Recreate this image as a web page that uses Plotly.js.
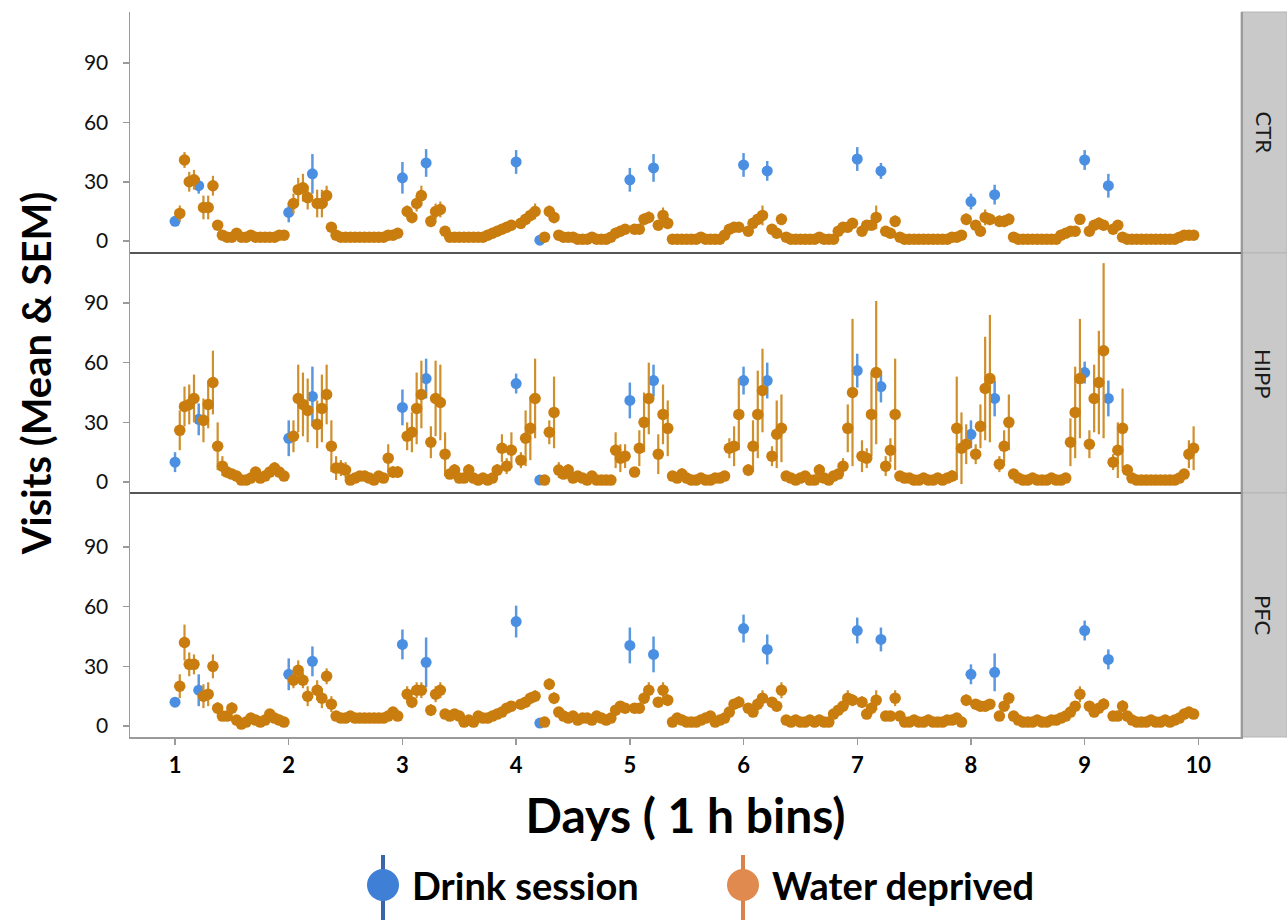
<!DOCTYPE html>
<html>
<head>
<meta charset="utf-8">
<script src="https://cdn.plot.ly/plotly-3.0.1.min.js"></script>
<style>
html,body{margin:0;padding:0;background:#fff;}
#chart{width:1287px;height:920px;}
</style>
</head>
<body>
<div id="chart"></div>
<script>
// ---------- DATA ----------
const DAYS = [1, 2, 3, 4, 5, 6, 7, 8, 9];
const HOURS_PER_DAY = 24;
const DRINK_HOURS = [0, 5];            // hours of each day that are drink sessions
const PANELS = ["CTR", "HIPP", "PFC"];
const X_TICKS = [1, 2, 3, 4, 5, 6, 7, 8, 9, 10];
const Y_TICKS = [0, 30, 60, 90];

// Water deprived: mean visits per 1 h bin (null where the bin is a drink session)
const CTR_WD = [
 null,14,41,30,31,null,17,17,28,8,3,2,2,4,2,2,3,2,2,2,2,2,3,3,
 null,19,26,27,22,null,19,19,23,7,3,2,2,2,2,2,2,2,2,2,2,3,3,4,
 null,15,12,19,23,null,10,15,16,5,2,2,2,2,2,2,2,2,3,4,5,6,7,8,
 null,9,11,13,15,null,2,15,12,3,2,2,2,1,1,1,2,1,1,1,2,4,5,6,
 null,6,6,11,12,null,8,13,9,1,1,1,1,1,1,2,1,1,1,1,3,6,7,7,
 null,5,9,11,13,null,6,4,11,2,1,1,1,1,1,1,2,1,1,1,5,7,7,9,
 null,5,8,8,12,null,5,4,10,2,1,1,1,1,1,1,1,1,1,1,2,2,3,11,
 null,8,5,12,11,null,10,10,11,2,1,1,1,1,1,1,1,1,1,3,4,5,5,11,
 null,5,8,9,8,null,6,8,2,1,1,1,1,1,1,1,1,1,1,1,2,3,3,3
];
const CTR_WD_SEM = [
 null,4,4,5,5,null,6,6,5,2,1,1,1,1,1,1,1,1,1,1,1,1,1,1,
 null,5,6,7,6,null,7,7,5,2,1,1,1,1,1,1,1,1,1,1,1,1,1,1,
 null,3,3,4,5,null,3,4,4,2,1,1,1,1,1,1,1,1,1,1,1,1,2,2,
 null,2,2,3,4,null,1,3,3,1,1,1,1,1,1,1,1,1,1,1,1,1,1,2,
 null,1,2,3,3,null,2,4,3,1,1,1,1,1,1,1,1,1,1,1,1,1,2,2,
 null,1,2,2,5,null,2,1,3,1,1,1,1,1,1,1,1,1,1,1,1,2,2,2,
 null,1,2,2,6,null,1,1,3,1,1,1,1,1,1,1,1,1,1,1,1,1,1,3,
 null,2,2,4,3,null,3,3,3,1,1,1,1,1,1,1,1,1,1,1,1,1,1,2,
 null,1,2,3,2,null,2,2,1,1,1,1,1,1,1,1,1,1,1,1,1,1,1,1
];
const HIPP_WD = [
 null,26,38,39,42,null,31,39,50,18,8,5,4,3,1,1,2,5,2,3,5,7,5,3,
 null,23,42,39,36,null,29,37,44,18,7,7,6,1,2,3,3,2,1,3,2,12,5,5,
 null,23,25,37,44,null,20,42,40,14,4,6,2,2,6,2,1,2,1,2,6,17,8,16,
 null,11,22,27,42,null,1,25,35,6,4,6,2,3,2,1,3,1,1,1,1,16,12,13,
 null,5,17,30,42,null,14,34,27,3,2,4,2,1,1,2,1,1,2,2,3,17,18,34,
 null,6,18,34,46,null,13,24,27,3,2,1,2,3,1,1,6,2,1,3,4,8,27,45,
 null,13,12,34,55,null,8,16,34,3,2,2,1,1,2,1,1,2,1,2,3,27,17,19,
 null,14,28,47,52,null,9,18,30,4,2,1,1,2,1,1,1,2,1,1,2,20,35,52,
 null,19,42,50,66,null,10,16,27,6,2,1,1,1,1,1,1,1,1,1,2,4,14,17
];
const HIPP_WD_SEM = [
 null,10,10,10,12,null,11,12,16,12,5,3,2,2,1,1,1,2,1,1,2,3,2,2,
 null,8,17,16,16,null,12,17,15,13,6,4,4,1,1,2,1,1,1,1,1,7,3,3,
 null,7,10,18,17,null,8,19,19,11,2,3,1,1,3,1,1,1,1,1,3,7,4,9,
 null,4,14,16,20,null,1,6,18,4,2,3,1,1,1,1,1,1,1,1,1,9,7,6,
 null,2,9,15,18,null,10,15,14,2,1,3,1,1,1,1,1,1,1,1,2,5,10,18,
 null,3,13,22,21,null,5,17,17,2,1,1,1,2,1,1,3,1,1,1,2,4,12,37,
 null,8,5,21,36,null,5,6,28,2,1,1,1,1,1,1,1,1,1,1,3,26,18,10,
 null,5,11,26,32,null,4,8,14,2,1,1,1,1,1,1,1,1,1,1,1,12,23,30,
 null,7,17,26,44,null,4,14,20,3,1,1,1,1,1,1,1,1,1,1,1,2,7,11
];
const PFC_WD = [
 null,20,42,31,31,null,15,16,30,9,5,5,9,3,1,2,4,3,2,3,6,4,3,2,
 null,23,28,23,15,null,18,14,25,11,5,4,4,5,4,4,4,4,4,4,4,5,7,5,
 null,16,12,18,18,null,8,16,18,6,5,6,5,2,3,2,5,4,4,5,6,7,9,10,
 null,11,12,14,15,null,2,21,14,7,5,4,5,3,4,4,3,5,4,3,4,8,10,9,
 null,9,9,14,18,null,12,18,13,2,4,3,2,2,2,3,4,5,2,3,4,7,11,12,
 null,9,7,11,14,null,12,10,18,3,2,3,2,2,3,2,3,2,2,6,8,10,14,13,
 null,12,6,9,13,null,5,5,14,5,2,2,3,2,2,3,2,2,2,3,3,4,2,13,
 null,11,10,10,11,null,5,10,14,5,3,2,2,2,3,2,2,3,3,4,5,7,10,16,
 null,10,7,9,11,null,5,5,10,5,3,2,2,2,3,2,2,3,2,3,4,6,7,6
];
const PFC_WD_SEM = [
 null,6,9,6,5,null,6,6,6,3,1,1,3,1,1,1,1,1,1,1,2,1,1,1,
 null,4,5,4,5,null,5,5,4,4,1,1,1,1,1,1,1,1,1,1,1,1,2,1,
 null,4,3,4,4,null,3,4,4,2,1,1,1,1,1,1,1,1,1,1,1,1,2,2,
 null,2,2,3,3,null,1,3,3,2,1,1,1,1,1,1,1,1,1,1,1,2,2,2,
 null,2,2,3,4,null,2,4,3,1,1,1,1,1,1,1,1,1,1,1,1,2,2,3,
 null,2,2,3,4,null,2,2,4,1,1,1,1,1,1,1,1,1,1,2,2,3,4,3,
 null,3,2,3,5,null,1,1,4,1,1,1,1,1,1,1,1,1,1,1,1,1,1,3,
 null,2,2,2,2,null,1,2,3,1,1,1,1,1,1,1,1,1,1,1,1,2,2,4,
 null,2,2,2,3,null,1,1,3,1,1,1,1,1,1,1,1,1,1,1,1,1,1,1
];

// Drink sessions: two per day (hour 0 and hour 5)
const CTR_DS      = [10, 28, 14.5, 34, 32, 39.5, 40, 0.5, 31, 37, 38.5, 35.5, 41.5, 35.5, 20, 23.5, 41, 28];
const CTR_DS_SEM  = [2, 4, 5, 10, 8, 7, 6, 0.5, 6, 7, 6, 5, 6, 4, 4, 5, 5, 6];
const HIPP_DS     = [10, 31.5, 22, 43, 37.5, 52, 49.5, 1, 41, 51, 51, 51, 56, 48, 24, 42, 55, 42];
const HIPP_DS_SEM = [5, 8, 9, 15, 9, 10, 5, 1, 9, 8, 7, 9, 8.5, 8, 7, 9, 5.5, 9];
const PFC_DS      = [12, 18, 26, 32.5, 41, 32, 52.5, 1.5, 40.5, 36, 49, 38.5, 48, 43.5, 26, 27, 48, 33.5];
const PFC_DS_SEM  = [2, 8, 8, 7.5, 7.5, 12.5, 8, 1, 9, 9, 7, 7.5, 6.5, 6, 5, 9.5, 5, 5];

// ---------- BUILD ----------
const WD = {CTR: [CTR_WD, CTR_WD_SEM], HIPP: [HIPP_WD, HIPP_WD_SEM], PFC: [PFC_WD, PFC_WD_SEM]};
const DS = {CTR: [CTR_DS, CTR_DS_SEM], HIPP: [HIPP_DS, HIPP_DS_SEM], PFC: [PFC_DS, PFC_DS_SEM]};

// time axis in days (1 h bins)
const wdX = [];
DAYS.forEach(d => { for (let h = 0; h < HOURS_PER_DAY; h++) wdX.push(d + h / HOURS_PER_DAY); });
const dsX = [];
DAYS.forEach(d => DRINK_HOURS.forEach(h => dsX.push(d + h / HOURS_PER_DAY)));

const ORANGE = '#c97d0f', ORANGE_BAR = '#cf8f2c';
const BLUE = '#4a8fe2', BLUE_BAR = '#5b98dd';
const yAxisIds = {CTR: 'y', HIPP: 'y2', PFC: 'y3'};

const traces = [];
PANELS.forEach(p => {
  traces.push({
    type: 'scatter', mode: 'markers', name: 'Drink session', showlegend: false,
    x: dsX, y: DS[p][0], xaxis: 'x', yaxis: yAxisIds[p],
    marker: {color: BLUE, size: 11},
    error_y: {type: 'data', array: DS[p][1], visible: true, color: BLUE_BAR, thickness: 2.5, width: 0}
  });
  traces.push({
    type: 'scatter', mode: 'markers', name: 'Water deprived', showlegend: false,
    x: wdX, y: WD[p][0], xaxis: 'x', yaxis: yAxisIds[p],
    marker: {color: ORANGE, size: 11.5},
    error_y: {type: 'data', array: WD[p][1], visible: true, color: ORANGE_BAR, thickness: 2.2, width: 0}
  });
});

// ---------- LAYOUT ----------
const W = 1287, H = 920, ML = 130, MR = 46, MT = 12, MB = 183;
const PW = W - ML - MR, PH = H - MT - MB;
const px2x = px => (px - ML) / PW;
const py2y = py => (H - MB - py) / PH;

const dPFC = [0, py2y(493)], dHIPP = [py2y(493), py2y(253)], dCTR = [py2y(253), 1];
const FONT = 'Lato, "Open Sans", sans-serif';

function yax(domain, range, showTitle) {
  const a = {
    domain: domain, range: range, tickvals: Y_TICKS, ticktext: Y_TICKS.map(String),
    showgrid: false, zeroline: false, showline: true, mirror: true,
    linecolor: '#9a9a9a', linewidth: 1.5,
    ticks: 'outside', ticklen: 6, tickcolor: '#9a9a9a', tickwidth: 1.5,
    ticklabelstandoff: 10,
    tickfont: {family: FONT, size: 21, color: '#111'},
    anchor: 'x', fixedrange: true
  };
  if (showTitle) a.title = {text: 'Visits (Mean & SEM)', font: {family: FONT, size: 40, color: '#000', weight: 'bold'}, standoff: 20};
  return a;
}

const shapes = [];
const annotations = [];
// facet strips
[[dCTR, 'CTR'], [dHIPP, 'HIPP'], [dPFC, 'PFC']].forEach(([d, lab]) => {
  shapes.push({type: 'rect', xref: 'paper', yref: 'paper', x0: 1, x1: px2x(1287), y0: d[0], y1: d[1],
    fillcolor: '#c9c9c9', line: {color: '#b5b5b5', width: 1}, layer: 'below'});
  annotations.push({xref: 'paper', yref: 'paper', x: px2x(1264), y: (d[0] + d[1]) / 2, text: lab,
    showarrow: false, textangle: 90, xanchor: 'center', yanchor: 'middle',
    font: {family: FONT, size: 22, color: '#1a1a1a'}});
});
// panel separators
[dHIPP[1], dPFC[1]].forEach(yv => {
  shapes.push({type: 'line', xref: 'paper', yref: 'paper', x0: 0, x1: 1, y0: yv, y1: yv,
    line: {color: '#555', width: 2}});
});
// custom legend (circle with a vertical SEM bar)
function legendItem(cx, color, barColor, label) {
  const cy = 885, r = 16;
  shapes.push({type: 'line', xref: 'paper', yref: 'paper', x0: px2x(cx), x1: px2x(cx), y0: py2y(855), y1: py2y(920),
    line: {color: barColor, width: 4}});
  shapes.push({type: 'circle', xref: 'paper', yref: 'paper', x0: px2x(cx - r), x1: px2x(cx + r), y0: py2y(cy + r), y1: py2y(cy - r),
    fillcolor: color, line: {color: color, width: 0}});
  annotations.push({xref: 'paper', yref: 'paper', x: px2x(cx + 27), y: py2y(cy), xanchor: 'left', yanchor: 'middle',
    text: '<b>' + label + '</b>', showarrow: false, font: {family: FONT, size: 38, color: '#000'}});
}
legendItem(383, '#3f7fd6', '#3b67a8', 'Drink session');
legendItem(743, '#e08a4f', '#d9834a', 'Water deprived');

const layout = {
  width: W, height: H,
  margin: {l: ML, r: MR, t: MT, b: MB},
  paper_bgcolor: '#fff', plot_bgcolor: '#fff',
  showlegend: false,
  font: {family: FONT},
  xaxis: {
    range: [0.604, 10.375], tickvals: X_TICKS, ticktext: X_TICKS.map(String),
    showgrid: false, zeroline: false, showline: true, mirror: true,
    linecolor: '#9a9a9a', linewidth: 1.5,
    ticks: 'outside', ticklen: 6, tickcolor: '#9a9a9a', tickwidth: 1.5,
    ticklabelstandoff: 2,
    tickfont: {family: FONT, size: 22, color: '#000', weight: 'bold'},
    anchor: 'y3', fixedrange: true,
    title: {text: 'Days ( 1 h bins)', font: {family: FONT, size: 48, color: '#000', weight: 'bold'}, standoff: 22}
  },
  yaxis: yax(dCTR, [-6, 115.8], false),
  yaxis2: yax(dHIPP, [-5.5, 115.1], true),
  yaxis3: yax(dPFC, [-5.5, 117.1], false),
  shapes: shapes,
  annotations: annotations
};

Plotly.newPlot('chart', traces, layout, {displayModeBar: false, staticPlot: true});
</script>
</body>
</html>
